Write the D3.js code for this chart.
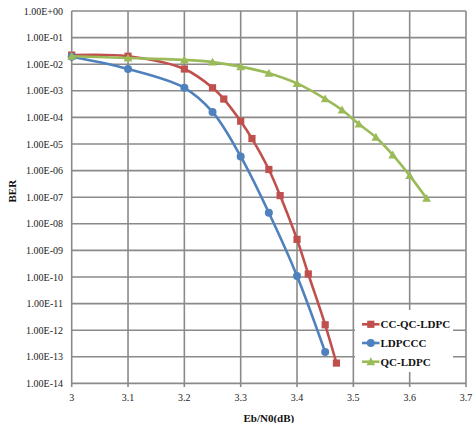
<!DOCTYPE html>
<html>
<head>
<meta charset="utf-8">
<script src="https://cdn.jsdelivr.net/npm/d3@7"></script>
<style>
  html, body { margin: 0; padding: 0; background: #fff; }
  svg { display: block; font-family: "Liberation Serif", "DejaVu Serif", serif; }
  .grid line { stroke: #8a8a8a; stroke-width: 1.6; }
  .tick-lbl { font-size: 10px; fill: #222; }
  .ttl { font-size: 11px; font-weight: bold; fill: #111; }
  .leg { font-size: 11px; font-weight: bold; fill: #111; }
</style>
</head>
<body>
<svg id="chart" width="474" height="423"></svg>
<script>
// x ticks (Eb/N0 in dB) and y ticks (decades)
const X_TICKS = [3.0, 3.1, 3.2, 3.3, 3.4, 3.5, 3.6, 3.7];
const X_LABELS = ['3', '3.1', '3.2', '3.3', '3.4', '3.5', '3.6', '3.7'];
const Y_EXPS = d3.range(0, -15, -1);

// CC-QC-LDPC
const ccX   = [3.0, 3.1, 3.2, 3.25, 3.27, 3.3, 3.32, 3.35, 3.37, 3.4, 3.42, 3.45, 3.47];
const ccBER = [2.2e-2, 2.0e-2, 6.6e-3, 1.3e-3, 4.9e-4, 7.2e-5, 1.6e-5, 1.1e-6, 1.15e-7, 2.6e-9, 1.3e-10, 1.6e-12, 5.8e-14];

// LDPCCC
const ldX   = [3.0, 3.1, 3.2, 3.25, 3.3, 3.35, 3.4, 3.45];
const ldBER = [1.9e-2, 6.6e-3, 1.3e-3, 1.6e-4, 3.4e-6, 2.6e-8, 1.1e-10, 1.5e-13];

// QC-LDPC
const qcX   = [3.0, 3.1, 3.2, 3.25, 3.3, 3.35, 3.4, 3.45, 3.48, 3.51, 3.54, 3.57, 3.6, 3.63];
const qcBER = [2.0e-2, 1.7e-2, 1.45e-2, 1.2e-2, 8.1e-3, 4.6e-3, 1.9e-3, 5.0e-4, 1.9e-4, 5.6e-5, 1.8e-5, 3.9e-6, 6.5e-7, 9.1e-8];

const SERIES = [
  { name: 'CC-QC-LDPC', xs: ccX, ys: ccBER, color: '#c0504d', marker: 'square' },
  { name: 'LDPCCC',     xs: ldX, ys: ldBER, color: '#4f81bd', marker: 'circle' },
  { name: 'QC-LDPC',    xs: qcX, ys: qcBER, color: '#9bbb59', marker: 'triangle' },
];

const svg = d3.select('#chart');
const L = 71.7, R = 466, T = 11, B = 383.4;

const x = d3.scaleLinear().domain([3.0, 3.7]).range([L, R]);
const y = d3.scaleLog().domain([1, 1e-14]).range([T, B]);

// grid
const grid = svg.append('g').attr('class', 'grid');
grid.selectAll('line.h')
  .data(Y_EXPS)
  .join('line')
  .attr('class', 'h')
  .attr('x1', L).attr('x2', R)
  .attr('y1', d => y(Math.pow(10, d))).attr('y2', d => y(Math.pow(10, d)));
grid.selectAll('line.v')
  .data(X_TICKS)
  .join('line')
  .attr('class', 'v')
  .attr('x1', d => x(d)).attr('x2', d => x(d))
  .attr('y1', T).attr('y2', B + 3.5);

// y tick labels
svg.append('g')
  .selectAll('text')
  .data(Y_EXPS)
  .join('text')
  .attr('class', 'tick-lbl')
  .attr('x', 63)
  .attr('y', d => y(Math.pow(10, d)))
  .attr('dy', '0.35em')
  .attr('text-anchor', 'end')
  .text(d => '1.00E' + (d === 0 ? '+00' : '-' + String(-d).padStart(2, '0')));

// x tick labels
svg.append('g')
  .selectAll('text')
  .data(X_TICKS)
  .join('text')
  .attr('class', 'tick-lbl')
  .attr('x', d => x(d))
  .attr('y', 401)
  .attr('text-anchor', 'middle')
  .text((d, i) => X_LABELS[i]);

// axis titles
svg.append('text').attr('class', 'ttl')
  .attr('x', (L + R) / 2).attr('y', 421.5)
  .attr('text-anchor', 'middle')
  .text('Eb/N0(dB)');
svg.append('text').attr('class', 'ttl')
  .attr('transform', `translate(16,${(T + B) / 2 - 6}) rotate(-90)`)
  .attr('text-anchor', 'middle')
  .text('BER');

function drawMarker(g, kind, cx, cy, color) {
  if (kind === 'square') {
    g.append('rect').attr('x', cx - 3.6).attr('y', cy - 3.6)
      .attr('width', 7.2).attr('height', 7.2).attr('fill', color);
  } else if (kind === 'circle') {
    g.append('circle').attr('cx', cx).attr('cy', cy).attr('r', 4).attr('fill', color);
  } else {
    const s = 4.4;
    g.append('path')
      .attr('d', `M${cx},${cy - s} L${cx + s},${cy + s * 0.8} L${cx - s},${cy + s * 0.8}Z`)
      .attr('fill', color);
  }
}

const line = d3.line()
  .x(d => x(d[0]))
  .y(d => y(d[1]))
  .curve(d3.curveCatmullRom.alpha(0.5));

SERIES.forEach(s => {
  const pts = s.xs.map((v, i) => [v, s.ys[i]]);
  const g = svg.append('g');
  g.append('path')
    .attr('d', line(pts))
    .attr('fill', 'none')
    .attr('stroke', s.color)
    .attr('stroke-width', 2.6);
  pts.forEach(p => drawMarker(g, s.marker, x(p[0]), y(p[1]), s.color));
});

// legend
const leg = svg.append('g');
leg.append('rect')
  .attr('x', 355).attr('y', 310)
  .attr('width', 98).attr('height', 62)
  .attr('fill', '#fff');
SERIES.forEach((s, i) => {
  const ly = 324.3 + i * 18.7;
  leg.append('line')
    .attr('x1', 362).attr('x2', 379.5)
    .attr('y1', ly).attr('y2', ly)
    .attr('stroke', s.color).attr('stroke-width', 2.6);
  drawMarker(leg, s.marker, 370.8, ly, s.color);
  leg.append('text').attr('class', 'leg')
    .attr('x', 380.5).attr('y', ly)
    .attr('dy', '0.36em')
    .text(s.name);
});
</script>
</body>
</html>
